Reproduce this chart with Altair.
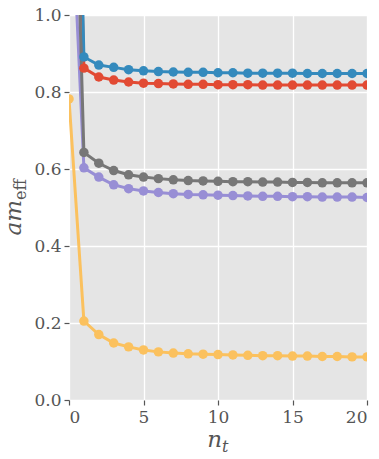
import altair as alt
import pandas as pd

nt = list(range(21))
blue = [2.6, 0.891, 0.870, 0.864, 0.858, 0.855, 0.853, 0.852, 0.851, 0.851, 0.850,
        0.850, 0.849, 0.849, 0.849, 0.849, 0.848, 0.848, 0.848, 0.848, 0.848]
red = [2.3, 0.862, 0.839, 0.831, 0.826, 0.823, 0.822, 0.821, 0.820, 0.820, 0.819,
       0.819, 0.819, 0.818, 0.818, 0.818, 0.818, 0.818, 0.818, 0.818, 0.818]
gray = [2.0, 0.643, 0.615, 0.596, 0.585, 0.579, 0.575, 0.572, 0.570, 0.569, 0.568,
        0.567, 0.567, 0.566, 0.566, 0.565, 0.565, 0.564, 0.564, 0.564, 0.564]
purple = [1.45, 0.603, 0.579, 0.559, 0.549, 0.543, 0.539, 0.536, 0.534, 0.533, 0.532,
          0.531, 0.530, 0.529, 0.529, 0.528, 0.528, 0.527, 0.527, 0.527, 0.526]
yellow = [0.782, 0.205, 0.170, 0.148, 0.138, 0.130, 0.125, 0.122, 0.120, 0.119, 0.118,
          0.117, 0.116, 0.115, 0.115, 0.114, 0.114, 0.113, 0.113, 0.112, 0.112]

series_names = ["s1", "s2", "s3", "s4", "s5"]
series_vals = [red, blue, purple, gray, yellow]
colors = ["#E24A33", "#348ABD", "#988ED5", "#777777", "#FBC15E"]

rows = []
for name, vals in zip(series_names, series_vals):
    for x, v in zip(nt, vals):
        rows.append({"nt": x, "am": v, "s": name})
df = pd.DataFrame(rows)

W, H = 298, 385
FONT = "DejaVu Serif"
TC = "#555555"

xs = alt.X("nt:Q", scale=alt.Scale(domain=[0, 20], nice=False),
           axis=alt.Axis(values=[0, 5, 10, 15, 20], title=None, format="d"))
ys = alt.Y("am:Q", scale=alt.Scale(domain=[0, 1], nice=False),
           axis=alt.Axis(values=[0, 0.2, 0.4, 0.6, 0.8, 1.0], title=None, format=".1f"))
col = alt.Color("s:N", scale=alt.Scale(domain=series_names, range=colors), legend=None)

base = alt.Chart(df)
lines = base.mark_line(strokeWidth=3, clip=True).encode(x=xs, y=ys, color=col, order="nt:Q")
pts = base.mark_circle(size=90, opacity=1, clip=True).encode(x=xs, y=ys, color=col)

lab = pd.DataFrame({"t": [0]})
tbase = alt.Chart(lab)
xt_main = tbase.mark_text(text="n", font=FONT, fontStyle="italic", fontSize=23,
                          align="right", baseline="alphabetic", color=TC).encode(
    x=alt.value(153), y=alt.value(H + 47))
xt_sub = tbase.mark_text(text="t", font=FONT, fontStyle="italic", fontSize=16,
                         align="left", baseline="alphabetic", color=TC, dy=5).encode(
    x=alt.value(153), y=alt.value(H + 47))
yt_main = tbase.mark_text(text="am", font=FONT, fontStyle="italic", fontSize=23,
                          align="right", baseline="alphabetic", angle=270, color=TC).encode(
    x=alt.value(-48), y=alt.value(185))
yt_sub = tbase.mark_text(text="eff", font=FONT, fontSize=16,
                         align="left", baseline="alphabetic", angle=270, color=TC, dy=5).encode(
    x=alt.value(-48), y=alt.value(185))

chart = alt.layer(lines, pts, xt_main, xt_sub, yt_main, yt_sub).properties(
    width=W, height=H,
    autosize=alt.AutoSizeParams(type="none"),
    padding={"left": 69, "top": 15, "right": 12, "bottom": 59},
    background="white",
).configure_view(fill="#E5E5E5", stroke=None).configure_axis(
    grid=True, gridColor="white", gridWidth=1.3, domain=False,
    tickColor=TC, tickSize=5, tickWidth=1.2,
    labelFont=FONT, labelFontSize=17, labelColor=TC, labelPadding=3,
).configure_axisX(labelPadding=4)

chart.save("out.html", embed_options={"renderer": "svg", "actions": False})
